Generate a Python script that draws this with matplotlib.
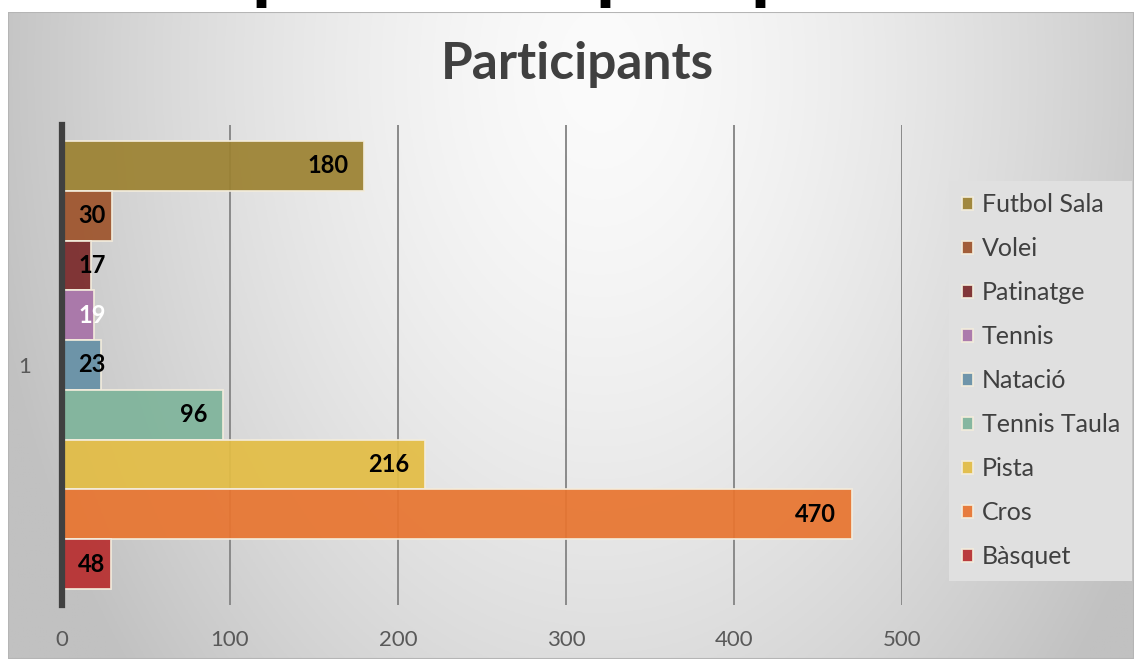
import numpy as np
import matplotlib.pyplot as plt
from matplotlib.patches import Rectangle

# data (top to bottom)
sports = ['Futbol Sala', 'Volei', 'Patinatge', 'Tennis', 'Natació',
          'Tennis Taula', 'Pista', 'Cros', 'Bàsquet']
values = [180, 30, 17, 19, 23, 96, 216, 470, 29]   # bar lengths as drawn
labels = ['180', '30', '17', '19', '23', '96', '216', '470', '48']  # data labels as shown
colors = ['#9c8232', '#9e542c', '#7b2a2b', '#a873a8', '#6690a6',
          '#7fb49b', '#e3bd45', '#e87530', '#b82f30']
label_colors = ['black', 'black', 'black', 'white', 'black',
                'black', 'black', 'black', 'black']
xticks = [0, 100, 200, 300, 400, 500]

W, H = 1134, 659
fig = plt.figure(figsize=(W / 100, H / 100), dpi=100)
fig.patch.set_facecolor('white')

# panel background: soft radial gradient
bg = fig.add_axes([8 / W, 0, (W - 8) / W, (H - 12) / H], zorder=-5)
xx, yy = np.meshgrid(np.linspace(8, W, 400), np.linspace(12, H, 240))
r = np.sqrt(((xx - 600) / 640) ** 2 + ((yy - 70) / 950) ** 2)
shade = 251 - np.clip(60 * r ** 1.5, 0, 58)
img = np.dstack([shade, shade, shade]) / 255
bg.imshow(img, aspect='auto', extent=[0, 1, 0, 1], origin='upper')
bg.add_patch(Rectangle((0, 0), 1, 1, transform=bg.transAxes, fill=False,
                       edgecolor='#b5b5b5', lw=1.5))
bg.axis('off')

# clipped heading above the panel (only descenders are visible)
for xp in [271, 615, 770]:
    fig.text(xp / W, (H + 4) / H, 'p', fontsize=40, fontweight='bold',
             color='black', ha='center', va='baseline')

ax = fig.add_axes([62 / W, 1 - 605 / H, 840 / W, 480 / H])
ax.patch.set_alpha(0)

ypos = np.arange(len(sports))
bars = []
for i, (s, v, c) in enumerate(zip(sports, values, colors)):
    b = ax.barh(ypos[i], v, height=1.0, color=c, alpha=0.93,
                edgecolor='#f3ecdc', linewidth=1.3, label=s, zorder=3)
    bars.append(b)

ax.set_ylim(len(sports) - 0.5 + 0.32, -0.5 - 0.32)
ax.set_xlim(0, 500)

# data labels
px_per_unit = 840 / 500
for i, (v, t, tc) in enumerate(zip(values, labels, label_colors)):
    if v * px_per_unit < 60:
        ax.annotate(t, (0, ypos[i]), xytext=(16, 0), textcoords='offset pixels',
                    ha='left', va='center', fontsize=17, fontweight='bold',
                    color=tc, family='Lato', zorder=5)
    else:
        ax.annotate(t, (v, ypos[i]), xytext=(-16, 0), textcoords='offset pixels',
                    ha='right', va='center', fontsize=17, fontweight='bold',
                    color=tc, family='Lato', zorder=5)

ax.set_xticks(xticks)
ax.set_xticklabels([str(x) for x in xticks], fontsize=16, color='#595959',
                   family='Lato')
ax.tick_params(axis='x', length=0, pad=18)
ax.set_yticks([(len(sports) - 1) / 2])
ax.set_yticklabels(['1'], fontsize=16, color='#595959', family='Lato')
ax.tick_params(axis='y', length=0, pad=22)
for x in xticks[1:]:
    ax.axvline(x, color='#8a8a8a', lw=1.4, zorder=1)
for sp in ['top', 'right', 'bottom']:
    ax.spines[sp].set_visible(False)
ax.spines['left'].set_color('#404040')
ax.spines['left'].set_linewidth(4.5)
ax.spines['left'].set_zorder(6)

fig.text(577 / W, 1 - 65 / H, 'Participants', fontsize=37, fontweight='bold',
         color='#404040', ha='center', va='center', family='Lato')

leg = fig.legend(handles=[b[0] for b in bars], labels=sports,
                 loc='upper left', bbox_to_anchor=(949 / W, 1 - 181 / H),
                 frameon=True, fancybox=False, facecolor='#e0e0e0',
                 edgecolor='none', framealpha=1,
                 handlelength=0.45, handleheight=0.45, handletextpad=0.35,
                 labelspacing=0.84, borderpad=0.5, borderaxespad=0,
                 prop={'family': 'Lato', 'size': 18})
for t in leg.get_texts():
    t.set_color('#404040')
for h in leg.legend_handles:
    h.set_alpha(0.93)

fig.savefig('out.png', dpi=100, facecolor='white')
